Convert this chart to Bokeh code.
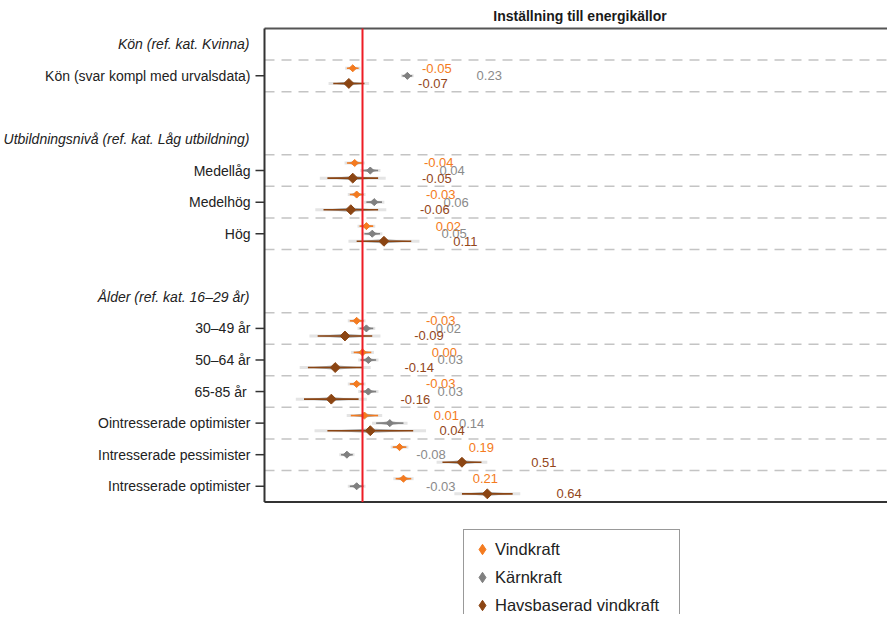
import math
from bokeh.plotting import figure
from bokeh.models import Range1d, Legend, LegendItem, ColumnDataSource
from bokeh.embed import file_html
from bokeh.resources import INLINE
from bokeh.core.properties import value

# ---------------- data ----------------
title_text = "Inställning till energikällor"
groups = [
    ("Kön (ref. kat. Kvinna)", ["Kön (svar kompl med urvalsdata)"]),
    ("Utbildningsnivå (ref. kat. Låg utbildning)", ["Medellåg", "Medelhög", "Hög"]),
    ("Ålder (ref. kat. 16–29 år)", ["30–49 år", "50–64 år", "65-85 år ",
                                    "Ointresserade optimister", "Intresserade pessimister",
                                    "Intresserade optimister"]),
]
series_names = ["Vindkraft", "Kärnkraft", "Havsbaserad vindkraft"]
series_colors = ["#F47B20", "#808080", "#8B4513"]
label_colors = ["#F47B20", "#8a8a8a", "#93461a"]

vind = [-0.05, -0.04, -0.03, 0.02, -0.03, 0.00, -0.03, 0.01, 0.19, 0.21]
karn = [0.23, 0.04, 0.06, 0.05, 0.02, 0.03, 0.03, 0.14, -0.08, -0.03]
havs = [-0.07, -0.05, -0.06, 0.11, -0.09, -0.14, -0.16, 0.04, 0.51, 0.64]

vind_ci = [0.03, 0.04, 0.035, 0.035, 0.035, 0.045, 0.035, 0.07, 0.035, 0.04]
karn_ci = [0.025, 0.04, 0.04, 0.04, 0.035, 0.04, 0.04, 0.07, 0.03, 0.035]
havs_ci = [0.08, 0.13, 0.14, 0.14, 0.14, 0.14, 0.14, 0.22, 0.10, 0.13]

series_values = [vind, karn, havs]
series_cis = [vind_ci, karn_ci, havs_ci]

# ---------------- row layout ----------------
FONT = "Liberation Sans"
item_rows, header_rows = [], []
i = 0
for gi, (header, items) in enumerate(groups):
    if gi > 0:
        i += 1
    header_rows.append((header, i))
    i += 1
    for it in items:
        item_rows.append((it, i))
        i += 1
n_rows = i
row_idx = [r for _, r in item_rows]

W, H = 887, 614
PX_X = 195.0            # pixels per unit on x
PX_Y = 31.57            # pixels per row
ZERO_SX = 362.0         # screen x of zero
TOP_SY = 28.0           # screen y of plot-area top
AXIS_SX = 264.0         # screen x of value axis

x0 = -ZERO_SX / PX_X
x1 = (W - ZERO_SX) / PX_X
y_top = -0.5 - TOP_SY / PX_Y
y_bot = y_top + H / PX_Y
v_ax = (AXIS_SX - ZERO_SX) / PX_X
top_r, bot_r = -0.5, n_rows - 0.5

p = figure(width=W, height=H, output_backend="svg", toolbar_location=None,
           x_range=Range1d(x0, x1), y_range=Range1d(y_bot, y_top),
           min_border=0)
p.outline_line_color = None
p.grid.visible = False
p.axis.visible = False

# title
p.text(x=[(v_ax + (895 - ZERO_SX) / PX_X) / 2], y=[-0.5 - 13 / PX_Y], text=[title_text],
       text_align="center", text_baseline="middle", text_font=value(FONT),
       text_font_size="14px", text_font_style="bold", text_color="#1a1a1a")

# dashed separators around data rows
bounds = sorted(set([r - 0.5 for r in row_idx] + [r + 0.5 for r in row_idx]))
p.segment(x0=[v_ax] * len(bounds), y0=bounds, x1=[x1] * len(bounds), y1=bounds,
          line_color="#c4c4c4", line_width=1.5, line_dash="10 7")

# frame lines
p.segment(x0=[v_ax], y0=[top_r], x1=[x1], y1=[top_r], line_color="#555555", line_width=2)
p.segment(x0=[v_ax], y0=[bot_r], x1=[x1], y1=[bot_r], line_color="#333333", line_width=2)
p.segment(x0=[v_ax], y0=[top_r], x1=[v_ax], y1=[bot_r], line_color="#333333", line_width=2)

# ticks + labels
p.ray(x=[v_ax] * len(row_idx), y=row_idx, length=9, length_units="screen", angle=math.pi,
      line_color="#333333", line_width=1.5)
p.text(x=[v_ax] * len(item_rows), y=row_idx, text=[n for n, _ in item_rows], x_offset=-14,
       text_align="right", text_baseline="middle", text_font=value(FONT),
       text_font_size="14px", text_color="#222222")
p.text(x=[v_ax] * len(header_rows), y=[r for _, r in header_rows],
       text=[h for h, _ in header_rows], x_offset=-15,
       text_align="right", text_baseline="middle", text_font=value(FONT),
       text_font_size="14px", text_font_style="italic", text_color="#222222")

offsets = [-0.24, 0.0, 0.24]
sizes = [5, 5, 7]
legend_items = []
for s, name in enumerate(series_names):
    vals = series_values[s]
    cis = series_cis[s]
    col = series_colors[s]
    ys = [r + offsets[s] for r in row_idx]
    p.segment(x0=[v - 1.3 * c for v, c in zip(vals, cis)], y0=ys,
              x1=[v + 1.3 * c for v, c in zip(vals, cis)], y1=ys,
              line_color="#e4e4e4", line_width=3)
    hh = 0.07
    xs_p = [[v - c, v, v + c, v] for v, c in zip(vals, cis)]
    ys_p = [[y, y - hh, y, y + hh] for y in ys]
    p.patches(xs_p, ys_p, fill_color="#555555", fill_alpha=0.45, line_color=None)
    p.segment(x0=[v - c for v, c in zip(vals, cis)], y0=ys,
              x1=[v + c for v, c in zip(vals, cis)], y1=ys,
              line_color=col, line_width=1.6)
    src = ColumnDataSource(dict(x=vals, y=ys,
                                lx=[v + 0.355 for v in vals],
                                t=[f"{v:.2f}" for v in vals]))
    # small diamond (hidden under the main marker) used as legend glyph
    leg_r = p.scatter("x", "y", source=src, marker="diamond", size=4,
                      fill_color=col, line_color=col)
    p.scatter("x", "y", source=src, marker="square", angle=math.pi / 4,
              size=sizes[s], fill_color=col, line_color=col)
    p.text("lx", "y", text="t", source=src, text_color=label_colors[s], text_font=value(FONT),
           text_font_size="13px", text_baseline="middle", text_align="left")
    legend_items.append(LegendItem(label=name, renderers=[leg_r]))

# zero line
p.segment(x0=[0], y0=[top_r], x1=[0], y1=[bot_r], line_color="#EE1C25", line_width=2)

legend = Legend(items=legend_items, location=(463, H - 625), orientation="vertical",
                border_line_color="#333333", border_line_width=1.3,
                background_fill_color="white",
                label_text_font=FONT, label_text_font_size="16.5px", label_text_color="#222222",
                spacing=0, padding=5, margin=0, glyph_width=26, glyph_height=28,
                label_height=28, label_width=179, label_standoff=0)
p.add_layout(legend, "center")

open("out.html", "w").write(file_html(p, INLINE))
